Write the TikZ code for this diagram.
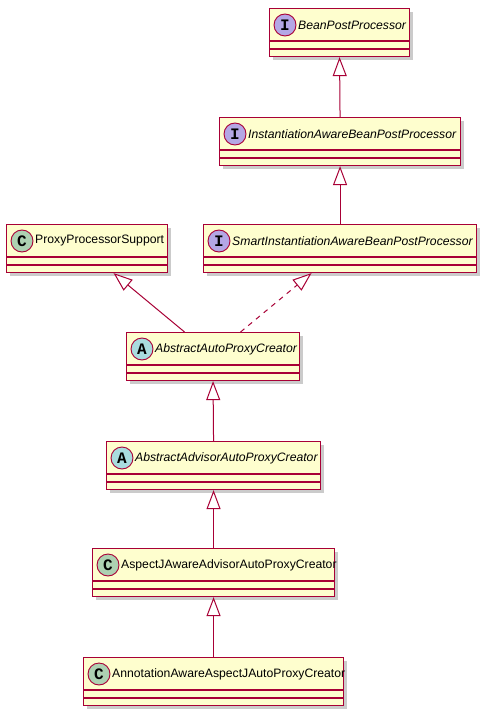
\documentclass[tikz,border=0pt]{standalone}
\usepackage{fontspec}
\setmainfont{Liberation Sans}
\newfontfamily\spotfont{Liberation Mono}
\usetikzlibrary{arrows.meta,shadows}
\definecolor{umlfill}{HTML}{FEFECE}
\definecolor{umlborder}{HTML}{A80036}
\definecolor{spotI}{HTML}{B4A7E5}
\definecolor{spotC}{HTML}{ADD1B2}
\definecolor{spotA}{HTML}{A9DCDF}
\tikzset{
  clsbox/.style={draw=umlborder, fill=umlfill, line width=1.1pt, minimum height=48pt, inner sep=0pt, anchor=north west,
    drop shadow={shadow xshift=3pt, shadow yshift=-3pt, fill=black!45, opacity=0.45}},
  clsline/.style={draw=umlborder, line width=1.1pt},
  spot/.style={circle, draw=umlborder, line width=0.9pt, minimum size=22pt, inner sep=0pt,
    font=\fontsize{16}{16}\selectfont\spotfont\bfseries},
  lbl/.style={anchor=west, inner sep=0pt, font=\fontsize{12.2}{14}\selectfont},
  gen/.style={draw=umlborder, line width=1pt, -{Triangle[open, length=19pt, width=14pt, fill=white]}},
  realdash/.style={dash pattern=on 5pt off 5pt}
}
% name, x, y, width, letter, colour, text
\newcommand\umlcls[7]{%
  \node[clsbox, minimum width=#4] (#1) at (#2,#3) {};
  \draw[clsline] ([yshift=-33pt]#1.north west) -- ([yshift=-33pt]#1.north east);
  \draw[clsline] ([yshift=-41pt]#1.north west) -- ([yshift=-41pt]#1.north east);
  \node[spot, fill=#6] (#1-spot) at ([xshift=16pt, yshift=-17pt]#1.north west) {#5};
  \node[lbl] (#1-label) at ([xshift=29pt, yshift=-17pt]#1.north west) {#7};
}
\begin{document}
\begin{tikzpicture}[x=1pt, y=-1pt]
\useasboundingbox[fill=white] (0,0) rectangle (486,714);
\umlcls{bpp}{269}{8}{140}{I}{spotI}{\itshape BeanPostProcessor}
\umlcls{iabpp}{219}{117}{241}{I}{spotI}{\itshape InstantiationAwareBeanPostProcessor}
\umlcls{pps}{6}{224}{161}{C}{spotC}{ProxyProcessorSupport}
\umlcls{siabpp}{203}{224}{273}{I}{spotI}{\itshape SmartInstantiationAwareBeanPostProcessor}
\umlcls{aapc}{126}{332}{173}{A}{spotA}{\itshape AbstractAutoProxyCreator}
\umlcls{aaapc}{106}{441}{214}{A}{spotA}{\itshape AbstractAdvisorAutoProxyCreator}
\umlcls{ajaapc}{92}{548}{242}{C}{spotC}{AspectJAwareAdvisorAutoProxyCreator}
\umlcls{aaajapc}{83}{657}{260}{C}{spotC}{AnnotationAwareAspectJAutoProxyCreator}

\draw[gen] (iabpp.north) -- (bpp.south);
\draw[gen] (siabpp.north) -- (iabpp.south);
\draw[gen] ([xshift=-28.5pt]aapc.north) -- ([xshift=26.5pt]pps.south);
\draw[gen, realdash] ([xshift=27.5pt]aapc.north) -- ([xshift=-28.5pt]siabpp.south);
\draw[gen] (aaapc.north) -- (aapc.south);
\draw[gen] (ajaapc.north) -- (aaapc.south);
\draw[gen] (aaajapc.north) -- (ajaapc.south);
\end{tikzpicture}
\end{document}
